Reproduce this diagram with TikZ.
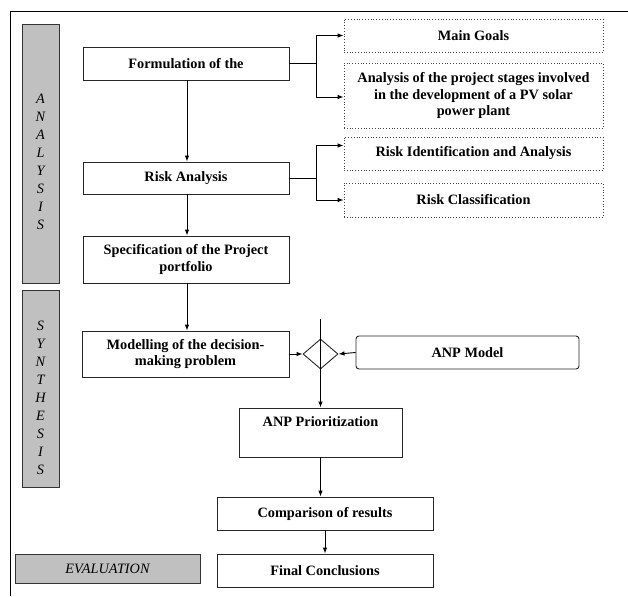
\documentclass[tikz,border=0pt]{standalone}
\usepackage{fontspec}
\setmainfont{Liberation Serif}
\usetikzlibrary{shapes.geometric,arrows.meta}
\definecolor{bargray}{HTML}{C0C0C0}
\tikzset{
  box/.style={draw=black!85, line width=0.9pt, fill=white, align=center, inner sep=0pt,
    font=\bfseries\fontsize{14.3}{16.5}\selectfont},
  dbox/.style={draw=black!75, dotted, line width=0.8pt, fill=white, align=center, inner sep=0pt,
    font=\bfseries\fontsize{14.3}{16.5}\selectfont},
  bar/.style={draw=black!80, fill=bargray, line width=0.9pt, inner sep=0pt},
  vlab/.style={align=center, inner sep=0pt, font=\itshape\fontsize{14.3}{18}\selectfont},
  arr/.style={-{Latex[length=6pt,width=4.5pt]}, line width=0.9pt},
  ln/.style={line width=0.9pt}
}
\begin{document}
\begin{tikzpicture}[x=1pt,y=-1pt]
\useasboundingbox (0,0) rectangle (628,596);
% frame
\draw[ln] (10,596) -- (10,11) -- (628,11);
% side bars
\node[bar, minimum width=37pt, minimum height=259pt] (anabar) at (40.5,153.5) {};
\node[vlab] (analab) at (40.5,161.5) {A\\N\\A\\L\\Y\\S\\I\\S};
\node[bar, minimum width=37pt, minimum height=197pt] (synbar) at (40.5,388.5) {};
\node[vlab] (synlab) at (40.5,397.5) {S\\Y\\N\\T\\H\\E\\S\\I\\S};
\node[bar, minimum width=185pt, minimum height=29pt, font=\itshape\fontsize{14.3}{16.5}\selectfont] (evalbar) at (107.5,568.5) {EVALUATION};
% main column
\node[box, minimum width=206pt, minimum height=33pt] (form) at (186,63.5) {Formulation of the};
\node[box, minimum width=206pt, minimum height=32pt] (risk) at (186,178) {Risk Analysis};
\node[box, minimum width=206pt, minimum height=47pt] (spec) at (186,259.5) {Specification of the Project\\portfolio};
\node[box, minimum width=207pt, minimum height=46pt] (model) at (185.5,354) {Modelling of the decision-\\making problem};
\node[box, minimum width=163pt, minimum height=49pt] (prior) at (320.5,432.5) {ANP Prioritization\\\strut};
\node[box, minimum width=216pt, minimum height=33pt] (comp) at (325,513.5) {Comparison of results};
\node[box, minimum width=216pt, minimum height=33pt] (final) at (325,570.5) {Final Conclusions};
\node[box, rounded corners=3pt, minimum width=223pt, minimum height=33pt] (anpm) at (467.5,352.5) {ANP Model};
\node[draw=black!85, line width=0.9pt, diamond, minimum width=35pt, minimum height=30pt, inner sep=0pt, fill=white] (dia) at (320.5,354) {};
% dotted boxes
\node[dbox, minimum width=259pt, minimum height=33pt] (goals) at (473.5,35.5) {Main Goals};
\node[dbox, minimum width=259pt, minimum height=65pt] (stages) at (473.5,95.5) {Analysis of the project stages involved\\in the development of a PV solar\\power plant};
\node[dbox, minimum width=259pt, minimum height=33pt] (riskid) at (473.5,153.5) {Risk Identification and Analysis};
\node[dbox, minimum width=259pt, minimum height=34pt] (riskcl) at (473.5,200) {Risk Classification};
% connectors
\coordinate (fj) at (316,63.5);
\coordinate (rj) at (316,178);
\draw[ln] (form.east) -- (fj);
\draw[arr] (fj) |- (goals.west);
\draw[arr] (fj) |- ([yshift=-1.5pt]stages.west);
\draw[ln] (risk.east) -- (rj);
\draw[arr] (rj) |- ([yshift=8pt]riskid.west);
\draw[arr] (rj) |- (riskcl.west);
\draw[arr] ([xshift=1pt]form.south) -- ([xshift=1pt]risk.north);
\draw[arr] ([xshift=1pt]risk.south) -- ([xshift=1pt]spec.north);
\draw[arr] ([xshift=1pt]spec.south) -- ([xshift=1.5pt]model.north);
\coordinate (vtop) at (320.5,319);
\draw[arr] (vtop) -- (prior.north);
\draw[arr] (model.east) -- (dia.west);
\draw[arr] (anpm.west) -- (dia.east);
\draw[arr] (prior.south) -- (prior.south |- comp.north);
\draw[arr] (comp.south) -- (final.north);
\end{tikzpicture}
\end{document}
